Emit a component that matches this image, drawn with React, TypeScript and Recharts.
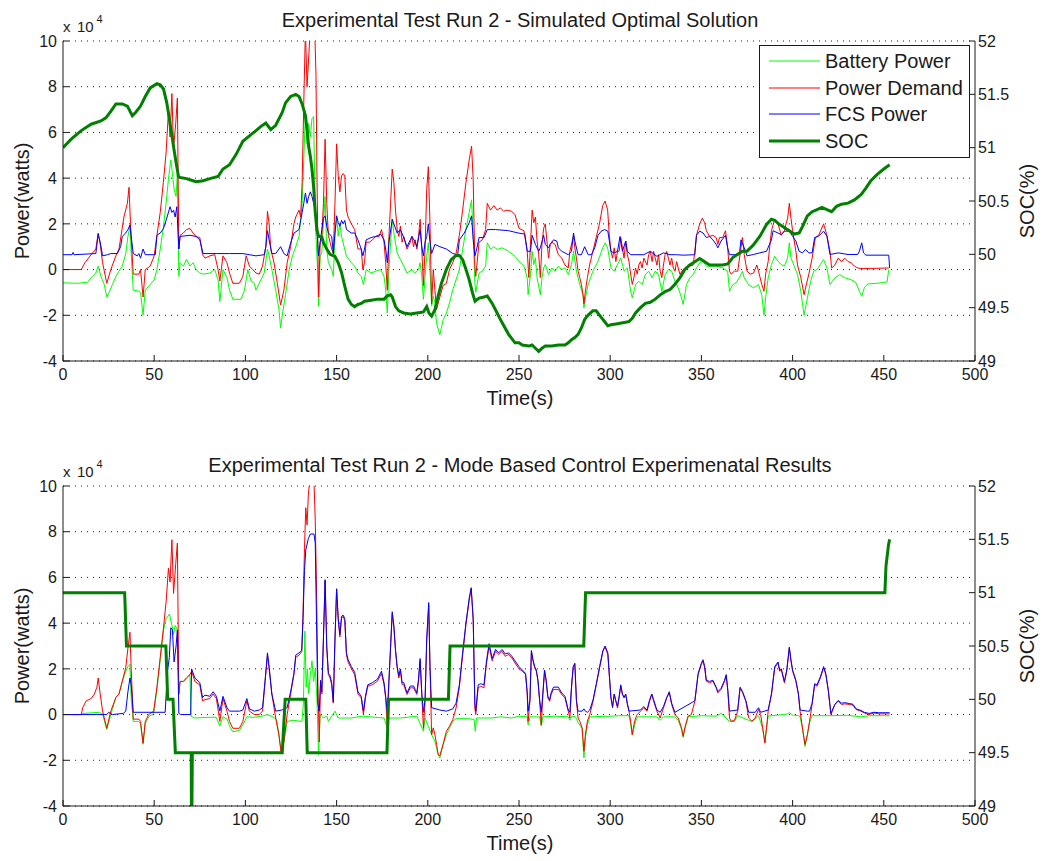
import React from "react";
import { ComposedChart, Line, XAxis, YAxis, CartesianGrid } from "recharts";

type Pt = [number, number];

// axis ticks
const timeTicks = [0, 50, 100, 150, 200, 250, 300, 350, 400, 450, 500];
const powerTicks = [-4, -2, 0, 2, 4, 6, 8, 10];
const socTicks = [49, 49.5, 50, 50.5, 51, 51.5, 52];

// run 2, simulated optimal solution (power in x10^4 W, SOC in %)
const simBattery: Pt[] = [
  [0, -0.58], [8, -0.6], [13.6, -0.55], [15.4, -0.35], [18, -0.15], [19.3, 0.15], [20.8, -0.3], [22.6, -0.65], [24, -1.2], [25.3, -1.0],
  [27.1, -0.65], [29, -0.3], [30.7, -0.07], [32.5, 0.15], [34.4, 0.7], [35.6, 1.45], [36.7, 1.9], [37.4, 0.7], [38.5, -0.9], [41.6, -0.95],
  [42.5, -1.0], [43.9, -2.0], [45.1, -0.9], [47.8, -0.65], [50, -0.45], [51.5, 0], [53.3, 0.9], [55.1, 1.9], [56.5, 2.9], [57.8, 3.95],
  [59.1, 4.8], [60, 4.2], [60.9, 3.5], [62, 3.2], [62.7, 4.2], [63.5, -0.3], [64.2, 0.3], [66, 0.15], [67.7, 0.45], [69.6, 0.15],
  [71.3, 0.3], [72.9, 0], [75, -0.15], [76.8, -0.2], [80.5, -0.15], [83.2, 0], [85, -0.45], [86, -1.4], [87.7, 0], [89.9, -0.35],
  [91.3, -0.9], [93.1, -1.3], [97.6, -1.3], [99.5, -0.9], [101.3, 0], [103.1, -0.5], [104.9, -0.6], [105.8, -0.9], [107.6, -0.6], [110.3, -0.15],
  [112.1, 0.9], [113, 0.6], [114.5, 0], [116.6, -0.9], [118.4, -1.75], [119.3, -2.55], [120.2, -2.0], [122, -1.1], [124, 0], [125.8, 0.6],
  [127.6, 1.0], [129.4, 1.45], [131.1, 2.9], [132, 4.8], [132.9, 6.9], [133.8, 5.5], [134.7, 6.4], [135.6, 5.8], [136.5, 6.6], [137.4, 6.7],
  [138, 3.9], [138.7, 1.45], [139.6, 0], [140.1, -1.6], [141, 0.6], [141.9, 0.73], [142.8, 2.05], [143.7, 3.2], [144.6, 0.88], [145.5, 0.3],
  [147.3, 0], [148.2, -0.3], [149.1, 1.46], [150, 2.35], [150.9, 1.46], [151.8, 2.05], [152.7, 1.46], [153.6, 1.17], [155.4, 0.58], [158.1, 0.3],
  [159.9, 0.15], [161.7, -0.15], [163.5, -0.3], [164.7, -0.65], [166.2, 0], [168.9, -0.15], [171.5, -0.07], [174.2, 0], [176, -0.3], [176.9, -0.88],
  [177.8, -1.9], [178.7, 0], [179.6, 1.17], [180.5, 2.2], [181.4, 1.6], [183.2, 0.73], [185, 0.44], [186.8, 0.15], [188.6, -0.15], [191.3, 0],
  [193.1, -0.15], [194.9, 0], [195.8, 0.3], [196.7, -0.3], [197.6, -1.3], [198.5, -0.3], [199.4, 0.58], [200.3, 1.17], [201.2, 0], [202.1, -1.6],
  [203, -1.17], [203.9, -1.46], [204.8, -2.35], [206.6, -2.85], [208.4, -2.2], [210.2, -1.9], [211.9, -1.46], [213.7, -0.88], [215.5, -0.44], [217.3, 0],
  [219.1, 0.88], [220.9, 1.75], [222.7, 2.5], [224, 3.05], [224.9, 1.46], [225.8, -0.58], [226.3, -1.0], [228.1, -0.15], [229.9, -0.07], [231.7, 0.15],
  [232.6, 1.17], [234.4, 0.88], [236.2, 1.0], [238, 0.88], [240.7, 0.95], [244.3, 0.8], [247.8, 0.58], [250, 0.36], [252.7, 0.15], [254.5, -0.36],
  [255, -1.1], [256.3, -0.22], [257.2, 0.8], [258.1, 0.22], [259, 0.51], [259.9, -0.36], [261.7, -1.1], [262.6, -0.36], [263.5, 0.07], [264.4, 0.22],
  [266.2, -0.22], [268, 0.07], [269.8, -0.07], [271.6, 0.15], [273.4, 0], [275.2, 0.07], [277, -0.22], [278.8, 0.22], [279.9, 0.8], [281.5, -0.07],
  [283.3, -0.66], [285.1, -1.1], [285.6, -1.68], [286.4, -1.24], [287.9, -0.66], [290.5, -0.07], [293.3, 0.36], [295.9, 0.95], [297.2, 1.17], [298.6, 0.95],
  [300.4, 0.07], [302.2, -0.07], [304, 0.22], [305.8, 0.51], [307.6, -0.07], [309.4, 0.07], [311.2, -0.95], [312.1, -1.24], [313.9, -0.66], [315.7, -0.51],
  [317.5, -0.66], [319.3, -0.22], [321.1, -0.07], [323, -0.36], [324.7, -0.07], [326.5, -0.22], [328.3, -0.95], [330.1, -0.22], [331.9, 0], [333.7, -0.07],
  [335.5, -0.51], [337.3, -0.8], [339.1, -1.24], [340, -1.53], [341.8, -0.66], [343.6, -0.36], [345.5, -0.22], [347.3, 0.07], [349.1, 0.29], [350.9, 0.36],
  [352.7, 0.15], [354.5, 0.15], [358.1, 0.15], [361.7, 0.07], [364.4, -0.07], [365.4, -0.95], [367.2, -0.66], [369, -0.58], [370.8, -0.36], [372.5, -0.07],
  [373.5, -0.36], [375.9, -0.66], [378.6, -0.8], [381.3, -0.66], [383.1, -1.1], [384.3, -2.0], [385.4, -1.1], [386.6, -0.36], [388.4, 0.22], [390.2, 0.58],
  [392, 0.36], [393.8, 0.22], [395.5, 0.15], [397.3, 0.51], [398.2, 1.17], [399.1, 0.51], [400.9, 0.15], [402.7, -0.22], [404.5, -0.95], [406.3, -2.0],
  [408.1, -1.24], [409.9, -0.51], [411.6, -0.07], [413.4, 0], [415.2, 0.22], [417, 0.44], [418.8, 0.07], [420.5, -0.66], [423.2, -0.36], [425.9, -0.22],
  [428.6, -0.36], [432.1, -0.44], [434.8, -0.58], [436.6, -0.95], [437.9, -1.17], [439.3, -0.8], [441.1, -0.63], [444.6, -0.61], [448.2, -0.58], [451.8, -0.54],
  [452.7, 0],
];

const simDemand: Pt[] = [
  [0, 0], [10, 0], [12, 0.3], [15.4, 0.65], [18, 0.9], [19.3, 1.6], [20.4, 1.1], [21.7, 0.3], [24, -0.6], [26.2, 0],
  [29, 0.6], [30.7, 0.9], [33.4, 2.3], [35.3, 2.9], [36.2, 3.6], [37, 2.0], [38.5, -0.2], [41.6, -0.2], [42.5, 0], [43.9, -1.2],
  [45.1, 0], [47.8, 0.15], [50, 0.6], [51.5, 1.5], [53.3, 2.5], [55, 3.8], [56.5, 5.1], [57.8, 6.9], [58.7, 5.8], [59.7, 7.7],
  [60.6, 5.3], [61.8, 6.4], [62.7, 7.5], [63.5, 0.9], [64.2, 1.5], [66, 1.6], [67.7, 1.75], [69.6, 1.8], [71.3, 1.6], [72.9, 1.45],
  [75, 1.4], [76.5, 0.65], [77.8, 0.5], [80.5, 0.6], [83.2, 0.65], [85, 0], [86, -0.5], [87.7, 0.6], [89.9, 0.3], [91.3, -0.15],
  [93.1, -0.6], [96.7, -0.6], [98.6, -0.3], [100.4, 0.6], [102.2, 0.15], [104, 0], [105.8, -0.15], [107.6, -0.2], [109.4, 0.15], [111.2, 1.0],
  [112.1, 2.55], [113, 2.0], [113.9, 0.9], [115.7, 0.3], [117.5, -0.6], [119.3, -1.55], [121.1, -0.9], [122.9, 0.3], [124.8, 1.0], [126.6, 2.0],
  [127.6, 2.3], [129.4, 2.6], [130.3, 2.3], [131.1, 3.8], [132, 7.3], [132.9, 10.5], [133.8, 8], [134.7, 9.3], [135.6, 10.5], [136.5, 10.5],
  [138, 10.5], [138.7, 8.5], [139.2, 4.4], [140.1, -1.2], [141, 1.2], [141.9, 1.45], [142.8, 2.9], [143.7, 5.7], [144.6, 2.9], [145.5, 1.5],
  [146.4, 1.2], [147.3, 0.9], [148.2, 0.7], [149.1, 2.9], [150, 5.5], [150.9, 4.1], [151.8, 3.4], [152.7, 4.1], [153.6, 4.2], [154.5, 4.1],
  [155.4, 2.6], [156.3, 2.3], [158.1, 2.0], [159.9, 1.75], [161.7, 0.9], [163.5, 0.9], [164.4, 0], [165.3, 0.3], [166.2, 1.2], [168, 1.2],
  [169.7, 1.3], [171.5, 1.45], [173.3, 1.45], [174.6, 1.75], [176, 1.2], [176.9, 0.3], [177.8, -0.9], [178.7, 1.45], [179.6, 2.9], [180.5, 4.4],
  [181.4, 3.8], [182.3, 2.6], [183.2, 1.75], [184.1, 1.45], [185, 1.9], [185.9, 1.2], [186.8, 1.45], [188.6, 0.9], [190.4, 1.2], [191.3, 1.45],
  [192.2, 1.0], [193.1, 1.3], [194, 0.9], [194.9, 1.45], [195.8, 2.2], [196.7, 0.9], [197.6, -0.7], [198.5, 0.9], [199.4, 3.5], [200.3, 4.5],
  [201.2, 2.0], [202.1, -1.5], [203, 0], [203.9, -0.9], [204.8, -1.75], [206.6, -1.2], [208.4, -0.7], [210.2, -0.6], [211.9, 0], [213.7, 0.3],
  [215.5, 0.7], [217.3, 1.5], [219.1, 2.6], [220.9, 3.8], [222.7, 4.8], [224, 5.4], [224.9, 3.9], [225.8, 0.15], [226.3, -0.3], [228.1, 1.2],
  [229.9, 1.3], [231.7, 1.75], [232.6, 2.9], [234.4, 2.6], [236.2, 2.8], [238, 2.6], [239.8, 2.7], [241.6, 2.55], [243.4, 2.6], [246, 2.55],
  [247.8, 2.4], [250, 1.8], [252.7, 1.7], [254.5, 0.8], [255.4, -0.35], [256.3, 1.1], [257.2, 2.6], [258.1, 2.05], [259, 2.3], [259.9, 1.25],
  [260.8, 0.65], [261.7, -0.35], [262.6, 1.1], [263.5, 1.8], [264.4, 2.0], [265.3, 1.25], [266.2, 0.5], [267.1, 1.1], [268, 1.2], [269.8, 1.1],
  [271.6, 0.65], [273.4, 0.5], [275.2, 0.2], [277, 0.07], [277.9, 0.8], [279.2, 1.25], [279.9, 1.5], [280.6, 0.95], [281.5, 0.5], [282.4, -0.07],
  [283.3, -0.35], [284.2, -0.65], [285.1, -1.1], [285.6, -1.5], [286.4, -0.95], [287.5, -0.35], [288.7, 0.2], [290.5, 0.8], [292.3, 1.4], [294.1, 2.0],
  [295.9, 2.8], [297.2, 3.0], [298.6, 2.6], [299.5, 1.5], [300.4, 0.8], [301.3, 0.5], [302.2, 0.95], [303.1, 0.35], [304, 0.8], [304.9, 0.8],
  [305.8, 1.4], [306.7, 0.95], [307.6, 0.5], [308.5, 1.25], [309.4, 0.65], [310.3, 0.35], [311.2, -0.2], [312.1, -0.65], [313, -0.35], [313.9, 0.07],
  [314.8, -0.2], [315.7, 0.2], [316.6, 0.35], [317.5, 0.07], [318.4, 0.5], [320.2, 0.2], [321.1, 0.65], [322, 0.8], [323, 0.35], [323.8, 0.8],
  [324.7, 0.5], [325.6, 0.2], [326.5, 0.65], [327.4, -0.07], [328.3, -0.35], [329.2, 0.2], [330.1, 0.65], [331, 0.8], [331.9, 0.5], [332.8, 0.2],
  [333.7, 0.5], [334.6, 0.07], [335.5, -0.07], [336.4, 0.35], [337.3, 0.07], [338.2, -0.2], [340, 0], [341.8, 0.07], [343.6, 0.15], [345.5, 0.2],
  [346.4, 0.8], [347.3, 1.5], [349.1, 2.0], [350.5, 2.25], [351.8, 2.05], [352.7, 1.7], [354.5, 1.45], [356.3, 1.5], [358.1, 1.4], [359, 1.1],
  [359.9, 1.4], [361.7, 1.4], [363.2, 1.7], [364.4, 0.95], [365.4, -0.07], [366.3, -0.2], [368.1, -0.07], [369.9, -0.07], [371.7, 0.95], [372.5, 1.4],
  [373.5, 0.65], [375, -0.07], [376.8, -0.2], [378.6, -0.15], [380.4, 0.2], [381.3, -0.07], [383.1, -0.65], [384.3, -0.95], [385.2, -0.2], [386.6, 0.35],
  [388.4, 1.7], [390.2, 2.2], [392, 2.0], [393.8, 1.5], [395.5, 1.7], [396.4, 2.0], [397.3, 2.25], [398.2, 2.9], [399.1, 2.25], [400, 1.7],
  [401.8, 0.8], [402.7, 0.2], [404.5, -0.35], [406.3, -1.1], [407.1, -0.8], [408.9, -0.2], [410.7, 0.5], [412.5, 1.4], [414.3, 1.5], [417, 2.0],
  [418.8, 1.5], [420.5, 0.8], [421.4, 0.07], [423.2, 0.2], [425, 0.5], [426.8, 0.35], [428.6, 0.5], [430.4, 0.35], [432.1, 0.3], [433.9, 0.15],
  [435.7, 0.07], [437.5, 0.05], [442.9, 0.05], [452.7, 0.07],
];

const simFcs: Pt[] = [
  [0, 0.65], [5, 0.65], [5.5, 0.75], [6, 0.65], [18, 0.7], [19.3, 1.55], [20.4, 1.2], [21.7, 0.6], [24.4, 0.65], [26.2, 0.7],
  [29.8, 0.7], [31.6, 1.0], [32.5, 1.45], [34.4, 1.6], [35.6, 1.75], [36.7, 1.95], [37.4, 1.45], [38.5, 0.7], [40.7, 0.6], [41.6, 0.7],
  [42.5, 0.5], [43.9, 0.9], [45.1, 0.65], [50.6, 0.65], [51.5, 1.5], [53.3, 1.6], [55.1, 1.8], [56.9, 2.25], [58.7, 2.75], [59.7, 2.5],
  [60.6, 2.6], [61.5, 2.3], [62.4, 2.75], [63.5, 0.9], [64.2, 1.45], [69.6, 1.5], [72.9, 1.45], [75, 1.3], [76.8, 0.7], [84.1, 0.7],
  [91.3, 0.7], [98.6, 0.7], [102.2, 0.65], [105.8, 0.6], [110.3, 0.65], [111.2, 1.0], [112.1, 1.7], [113, 1.3], [114.5, 0.7], [116.6, 0.7],
  [119.3, 1.0], [121.1, 0.7], [122.9, 0.6], [124.9, 1.2], [126.7, 1.6], [129.4, 1.75], [131.1, 2.5], [132, 2.9], [132.9, 3.35], [133.8, 2.9],
  [134.7, 3.2], [135.6, 3.4], [136.5, 3.2], [137.4, 2.9], [138.3, 2.6], [139.2, 1.75], [140.1, 0.6], [141, 1.2], [141.9, 1.75], [142.8, 2.25],
  [143.7, 2.35], [144.6, 1.9], [145.5, 1.6], [147.3, 1.45], [148.2, 0.7], [149.1, 1.6], [150, 2.35], [150.9, 2.05], [151.8, 1.9], [152.7, 2.15],
  [153.6, 2.0], [154.5, 2.15], [155.4, 1.75], [158.1, 1.6], [159.9, 1.6], [161.7, 1.3], [163.5, 0.9], [164.4, 0.6], [165.3, 0.9], [166.2, 1.3],
  [168.9, 1.4], [171.5, 1.45], [174.2, 1.55], [176, 1.3], [176.9, 0.9], [177.8, 0.3], [178.7, 1.2], [180.5, 2.2], [181.4, 2.0], [183.2, 1.6],
  [185, 1.75], [186.8, 1.4], [188.6, 1.0], [190.4, 1.3], [191.3, 1.45], [193.1, 1.2], [194, 1.0], [195.8, 1.75], [196.7, 1.0], [197.6, 0.6],
  [198.5, 1.2], [199.4, 1.45], [200.3, 2.0], [201.2, 1.2], [202.1, 0.7], [203.9, 1.1], [206.6, 1.0], [210.2, 0.9], [213.7, 0.7], [216.4, 0.65],
  [217.3, 1.3], [220, 1.6], [222.7, 2.05], [224, 2.35], [224.9, 1.3], [225.8, 0.6], [226.8, 0.9], [228.1, 1.4], [230.8, 1.4], [232.6, 1.75],
  [237.1, 1.75], [244.3, 1.7], [249.6, 1.6], [253.2, 1.55], [254.5, 0.8], [256.3, 0.8], [257.2, 1.5], [259, 1.1], [260.8, 0.8], [261.7, 0.95],
  [263.5, 1.5], [264.4, 1.1], [266.2, 0.95], [267.1, 1.1], [268.9, 1.3], [270.7, 1.25], [271.6, 0.95], [273.4, 0.8], [275.2, 0.73], [277, 0.65],
  [278.8, 0.8], [279.9, 1.6], [280.6, 1.25], [282.4, 0.65], [284.2, 0.65], [286, 1.0], [287.9, 0.65], [289.7, 0.65], [291.5, 0.95], [293.3, 1.5],
  [295.1, 1.68], [296.9, 1.75], [298.7, 1.68], [300.4, 0.8], [302.2, 0.73], [304, 0.8], [305.4, 1.45], [306.7, 0.8], [308.5, 1.25], [309.4, 0.8],
  [311.2, 0.65], [318.4, 0.65], [322, 0.8], [325.6, 0.58], [329.2, 0.73], [332.8, 0.65], [336.4, 0.65], [340, 0.63], [346.4, 0.65], [347.3, 1.5],
  [349.1, 1.68], [350.9, 1.6], [352.7, 1.4], [354.5, 1.45], [356.3, 1.3], [358.1, 1.1], [359, 0.95], [360.8, 1.25], [363.2, 1.5], [364.4, 0.95],
  [365.4, 0.65], [370.8, 0.65], [371.7, 1.3], [373.5, 0.95], [375, 0.6], [378.6, 0.66], [382.1, 0.73], [385.7, 0.8], [388.4, 1.3], [389.3, 1.7],
  [392, 1.6], [393.8, 1.53], [395.5, 1.68], [398.2, 1.68], [400, 1.46], [401.8, 1.24], [403.6, 0.8], [405.4, 0.73], [407.1, 0.88], [408.9, 0.73],
  [410.7, 0.73], [412.1, 1.4], [414.3, 1.46], [417, 1.68], [418.8, 1.46], [420.5, 0.66], [425, 0.73], [430.4, 0.66], [435.7, 0.66], [436.6, 0.8],
  [437.9, 1.17], [438.9, 0.73], [440.2, 0.63], [452.7, 0.63], [453.2, 0.07],
];

const simSoc: Pt[] = [
  [0, 51.0], [4.5, 51.08], [10, 51.16], [15.4, 51.22], [20.8, 51.25], [23.5, 51.28], [26.2, 51.34], [29, 51.41], [32.5, 51.41], [35.3, 51.39],
  [38, 51.3], [39.8, 51.33], [42.5, 51.39], [45.1, 51.48], [47.8, 51.56], [51.5, 51.6], [53.3, 51.59], [55.1, 51.55], [56.9, 51.42], [58.7, 51.23],
  [60.6, 51.01], [62, 50.86], [63.3, 50.73], [64.2, 50.72], [67.7, 50.71], [71.3, 50.69], [73.1, 50.68], [76.8, 50.69], [80.5, 50.71], [85, 50.73],
  [87.7, 50.8], [91.3, 50.84], [95, 50.94], [98.6, 51.06], [102.2, 51.11], [105.8, 51.16], [108.5, 51.2], [111.2, 51.23], [113.9, 51.17], [116.6, 51.21],
  [120.2, 51.33], [122, 51.42], [124.8, 51.48], [127.6, 51.5], [129.4, 51.48], [131.1, 51.41], [132.9, 51.3], [133.8, 51.17], [134.7, 51.01], [135.6, 50.92],
  [136.5, 50.8], [137.4, 50.63], [138.3, 50.39], [139.2, 50.23], [140.1, 50.17], [141.9, 50.16], [142.8, 50.11], [144.6, 50.05], [146.4, 50.0], [149.1, 49.98],
  [150.9, 49.92], [152.7, 49.83], [154.5, 49.7], [156.3, 49.58], [158.1, 49.53], [159.9, 49.51], [161.7, 49.53], [163.5, 49.54], [165.3, 49.56], [168.9, 49.57],
  [172.5, 49.58], [176, 49.58], [177.8, 49.61], [179.6, 49.62], [180.5, 49.6], [182.3, 49.51], [184.1, 49.47], [186.8, 49.45], [190.4, 49.44], [194, 49.45],
  [197.6, 49.46], [199.4, 49.51], [200.6, 49.45], [202.1, 49.42], [203.9, 49.48], [205.7, 49.61], [207.5, 49.73], [210.2, 49.86], [212.8, 49.95], [215.5, 49.99],
  [217.3, 49.99], [219.1, 49.95], [220.9, 49.86], [222.7, 49.76], [224.5, 49.64], [225.9, 49.56], [228.1, 49.59], [230.8, 49.6], [232.6, 49.61], [235.3, 49.54],
  [238, 49.45], [240.7, 49.36], [244.3, 49.25], [247.8, 49.17], [250, 49.17], [251.8, 49.15], [255.4, 49.14], [257.2, 49.15], [259, 49.12], [260.8, 49.09],
  [262.6, 49.12], [264.4, 49.14], [268, 49.14], [271.6, 49.15], [275.2, 49.15], [277, 49.17], [278.8, 49.2], [280.6, 49.22], [282.4, 49.25], [284.2, 49.31],
  [286, 49.39], [287.9, 49.43], [290.5, 49.47], [292.3, 49.47], [294.1, 49.43], [296.9, 49.37], [298.7, 49.33], [300.4, 49.34], [304, 49.35], [307.6, 49.36],
  [310.3, 49.37], [312.1, 49.4], [313.9, 49.45], [316.6, 49.5], [319.3, 49.54], [322, 49.55], [324.7, 49.58], [327.4, 49.62], [330.1, 49.65], [332.8, 49.67],
  [335.5, 49.72], [338.2, 49.78], [341, 49.86], [343.6, 49.9], [346.4, 49.93], [349.1, 49.96], [351.8, 49.93], [354.5, 49.9], [358.1, 49.9], [361.7, 49.9],
  [364.4, 49.91], [365.4, 49.93], [367.2, 49.97], [369.9, 50.0], [372.5, 50.03], [375, 50.03], [378.6, 50.09], [382.1, 50.17], [385.7, 50.28], [388.4, 50.33],
  [390.2, 50.32], [392, 50.29], [394.6, 50.26], [398.2, 50.22], [400.9, 50.19], [403.6, 50.2], [405.4, 50.26], [408.1, 50.36], [410.7, 50.4], [413.4, 50.42],
  [416.1, 50.44], [418.8, 50.42], [421.4, 50.4], [424.1, 50.45], [426.8, 50.47], [430.4, 50.48], [433.9, 50.51], [437.5, 50.56], [440.2, 50.62], [442.9, 50.69],
  [446.4, 50.75], [450, 50.8], [453.2, 50.84],
];

// run 2, mode based control experimental results
const expBattery: Pt[] = [
  [0, 0], [10, 0], [11, 0.05], [20, 0.1], [21.7, 0], [24, -0.65], [26.2, 0], [29, 0.75], [30.7, 0.9], [32.5, 1.45],
  [34.4, 1.9], [35.6, 2.1], [36.7, 2.2], [37.4, 0.7], [38.5, -0.3], [41.6, -0.3], [42.5, -0.4], [43.9, -1.3], [45.1, -0.4], [47, -0.1],
  [49.7, 0.05], [51.5, 1.1], [53.3, 2.4], [55.1, 3.7], [56.6, 4.2], [58.4, 4.4], [59.7, 3.9], [60.6, 3.5], [61.5, 3.9], [62.7, 3.7],
  [63.5, 0.9], [64.2, 1.45], [66, 1.45], [67.7, 1.6], [69.6, 1.75], [70.2, -0.07], [72, -0.15], [80, -0.12], [84, -0.12], [86, -0.5],
  [87.7, -0.1], [90, -0.2], [91.3, -0.5], [93.1, -0.75], [96.7, -0.7], [98.6, -0.45], [100.8, -0.1], [105, -0.12], [110, -0.05], [112, 0],
  [115, -0.1], [117, -0.2], [118.4, -0.9], [119.5, -1.6], [121.1, -1.2], [122.9, -0.3], [126, -0.25], [131, -0.3], [131.8, 0.5], [132.6, 3.65],
  [133.3, 1.2], [134, 2.0], [134.7, 0.9], [135.6, 1.75], [136.5, 2.35], [137.4, 1.45], [138.3, 2.0], [139.2, 0.73], [140.1, -1.75], [141, 0],
  [142.8, -0.15], [144.6, -0.07], [145.5, -0.3], [149.1, 0.15], [150.9, -0.15], [158, -0.15], [164, -0.07], [176, -0.15], [177.8, -0.6], [178.7, -0.15],
  [185, -0.15], [194, -0.07], [197.6, -0.73], [198.5, -0.15], [202.1, -0.88], [203.9, -1.17], [205.7, -1.75], [206.6, -1.9], [208.4, -1.31], [210.2, -0.88],
  [211.9, -0.58], [213.7, -0.29], [215.5, -0.18], [222.7, -0.18], [225.4, -0.22], [226, -0.73], [226.7, -0.15], [235, -0.15], [240, -0.1], [246, -0.15],
  [250, -0.07], [254.5, -0.1], [255, -0.45], [256, -0.1], [261.3, -0.1], [262.2, -0.5], [263.1, -0.1], [270, -0.07], [277, -0.1], [277.9, -0.25],
  [279, -0.07], [281, -0.1], [282.4, -0.35], [284.6, -0.6], [285.6, -1.9], [286.4, -1.0], [287.5, -0.45], [288.8, -0.1], [300, -0.07], [305, -0.05],
  [310.3, -0.05], [311.2, -0.4], [312.1, -0.9], [313, -0.6], [313.9, -0.3], [315, -0.1], [325.6, -0.1], [327.4, -0.25], [329.2, -0.1], [335.5, -0.1],
  [337.3, -0.25], [339.1, -0.65], [340, -1.0], [340.9, -0.65], [342.7, -0.1], [350, -0.05], [358, -0.07], [360.8, 0.05], [362, -0.03], [365.4, -0.3],
  [366.3, -0.3], [368.1, -0.3], [369.9, -0.05], [375.9, -0.25], [377.7, -0.3], [379.5, -0.2], [381.3, -0.05], [383.6, -0.6], [384.8, -1.25], [385.7, -0.6],
  [386.6, -0.07], [397, 0.02], [398.2, 0.08], [400, -0.02], [403.2, -0.05], [404.1, -0.1], [405.4, -0.6], [406.8, -1.4], [408.1, -0.9], [409.3, -0.35],
  [410.7, -0.05], [420, -0.05], [430, -0.03], [437.5, -0.1], [441.9, -0.05], [453.2, -0.05],
];

const expDemand: Pt[] = [
  [0, 0], [10, 0], [10.8, 0.3], [12.7, 0.6], [15.4, 0.7], [17.2, 0.9], [18.6, 1.2], [19.3, 1.6], [20.4, 0.9], [21.7, 0.15],
  [24, -0.6], [26.2, 0.15], [29, 0.75], [30.7, 0.9], [32.5, 1.45], [34.4, 2.05], [35.6, 2.9], [36.7, 3.6], [37.4, 2.0], [38.5, -0.2],
  [41.6, -0.2], [42.5, -0.3], [43.9, -1.25], [45.1, -0.3], [47, 0], [49.7, 0.15], [51.5, 1.2], [53.3, 2.5], [55.1, 3.8], [56.6, 5.0],
  [57.8, 6.4], [58.7, 5.8], [59.7, 7.65], [60.6, 5.3], [61.8, 6.6], [62.7, 7.5], [63.5, 0.9], [64.2, 1.45], [66, 1.45], [67.7, 1.6],
  [69.6, 1.75], [70.5, 1.9], [72.3, 1.45], [75, 1.3], [76.5, 0.6], [77.8, 0.65], [80.5, 0.7], [82.3, 0.9], [84.1, 0.7], [86, -0.3],
  [87.7, 0.7], [89.9, 0.15], [91.3, -0.3], [93.1, -0.6], [96.7, -0.6], [98.6, -0.3], [100.8, 0.6], [102.2, 0.15], [104.9, 0], [107.6, 0],
  [109.4, 0.15], [110.8, 1.45], [112.1, 2.6], [113, 2.0], [114.5, 0.9], [116.6, -0.15], [118.4, -0.9], [119.5, -1.6], [121.1, -1.2], [122.9, 0],
  [124.8, 0.9], [126.6, 1.75], [127.6, 2.5], [129.4, 2.6], [130.9, 2.75], [131.6, 4.4], [132.4, 7.3], [133.1, 9.05], [133.8, 8.3], [134.5, 9.6],
  [135.6, 10.5], [136.9, 10.5], [137.6, 10.2], [138.3, 8.5], [139, 5.4], [139.7, 1.45], [140.5, -1.2], [141.2, 1.45], [141.9, 0.9], [142.8, 3.3],
  [143.7, 5.85], [144.6, 2.9], [145.5, 1.75], [146.4, 1.6], [147.3, 1.3], [148.2, 0.5], [149.1, 3.2], [150, 5.5], [150.9, 4.1], [151.8, 3.4],
  [152.7, 4.2], [153.6, 4.3], [154.5, 4.1], [155.4, 2.6], [156.3, 2.3], [158.1, 2.0], [159.9, 1.75], [161.7, 0.9], [163.5, 0.73], [164.7, 0],
  [165.8, 0.73], [167.1, 1.24], [169.7, 1.31], [172.4, 1.46], [174.6, 1.8], [176, 1.31], [176.9, 0.73], [177.8, -0.6], [178.7, 1.46], [179.6, 2.92],
  [180.5, 4.4], [181.4, 3.8], [182.3, 2.77], [183.2, 2.04], [184.1, 1.6], [185, 1.9], [185.9, 1.31], [186.8, 1.31], [188.6, 0.88], [190.4, 1.17],
  [192.2, 1.17], [193.1, 1.02], [194, 0.88], [194.9, 1.46], [195.8, 2.35], [196.7, 0.88], [197.6, -0.6], [198.5, 0.58], [199.4, 3.2], [200.5, 4.8],
  [201.2, 2.04], [202.1, -0.88], [203, -0.58], [203.9, -0.88], [204.8, -1.3], [205.7, -1.75], [206.6, -1.8], [208.4, -1.3], [210.2, -0.73], [211.9, -0.51],
  [213.7, -0.22], [215.5, 0.29], [217.3, 1.2], [219.1, 2.6], [220.9, 3.95], [222.7, 5.0], [223.8, 5.5], [224.9, 4.1], [225.8, 0.29], [226.3, 0],
  [227.6, 1.17], [229, 1.24], [230.8, 1.17], [232.1, 2.19], [233.6, 3.0], [235.3, 2.35], [237.1, 2.77], [238.9, 2.63], [240.7, 2.77], [242.5, 2.55],
  [244.3, 2.63], [246.1, 2.48], [247.8, 2.26], [250, 2.0], [251.8, 1.9], [253.6, 1.75], [254.5, 0.9], [255, -0.3], [256, 0.58], [256.8, 2.75],
  [257.7, 2.34], [258.6, 2.04], [259.5, 1.9], [260.4, 1.46], [261.3, 0.58], [262.2, -0.45], [263.1, 0.88], [264, 1.9], [264.9, 1.46], [265.8, 0.73],
  [266.8, 0.58], [267.6, 0.88], [268.9, 1.1], [271.6, 1.1], [273.4, 0.88], [275.2, 0.73], [277, 0.15], [277.9, -0.15], [278.8, 1.17], [279.7, 2.04],
  [280.6, 2.2], [281.5, 0.58], [282.4, -0.15], [283.3, -0.29], [284.6, -0.58], [285.6, -1.6], [286.4, -0.88], [287.5, -0.29], [288.8, 0], [290.6, 0.58],
  [292.4, 1.31], [294.2, 2.04], [296, 2.77], [297.2, 2.95], [298.7, 2.63], [299.6, 1.6], [300.4, 0.73], [301.3, 0.29], [302.2, 0.88], [303.1, 0.58],
  [304, 0.29], [304.9, 0.73], [305.8, 1.24], [306.7, 0.88], [307.6, 0.73], [308.5, 0.88], [309.4, 0.44], [310.3, 0.15], [311.2, -0.29], [312.1, -0.88],
  [313, -0.44], [313.9, -0.15], [314.8, 0], [316.6, 0.15], [318.4, 0.29], [320.2, 0.15], [321.6, 0.58], [322.8, 0.88], [323.8, 0.58], [325.6, 0.15],
  [327.4, -0.15], [329.2, 0.29], [331, 0.73], [332.4, 0.95], [333.7, 0.44], [335.5, 0], [337.3, -0.15], [339.1, -0.58], [340, -0.95], [340.9, -0.58],
  [342.7, -0.07], [344.5, 0], [346.4, 0.58], [348.2, 1.75], [350, 2.2], [350.9, 2.34], [351.8, 2.04], [352.7, 1.46], [354.5, 1.39], [356.3, 1.46],
  [358.1, 1.17], [359, 0.95], [360.8, 1.1], [362.7, 1.46], [363.6, 1.7], [364.5, 1.02], [365.4, -0.15], [366.3, -0.29], [368.1, -0.26], [369.9, 0.15],
  [371.2, 1.15], [372.6, 0.95], [374.4, 0.58], [375.9, -0.15], [377.7, -0.29], [379.5, -0.15], [381.3, 0.22], [382.5, 0], [383.6, -0.58], [384.8, -1.24],
  [385.7, -0.58], [386.6, 0.15], [388.4, 0.88], [389.3, 1.46], [390.2, 2.04], [392, 2.26], [392.9, 1.9], [393.8, 1.97], [395.5, 1.39], [396.8, 1.9],
  [398.2, 2.92], [399.1, 2.34], [400, 1.9], [401.8, 1.46], [403.2, 0.88], [404.1, 0.15], [405.4, -0.58], [406.8, -1.31], [408.1, -0.88], [409.3, -0.29],
  [410.7, 0.44], [412.1, 1.31], [413.4, 1.24], [415.2, 1.6], [417, 2.04], [418.2, 1.75], [419.6, 1.02], [421, 0], [423.2, 0.44], [425, 0.58],
  [426.8, 0.44], [428.6, 0.47], [431.3, 0.44], [433.1, 0.41], [434.8, 0.22], [437.5, 0.15], [439.3, 0.07], [441.9, 0], [444.6, 0.07], [447.3, 0.03],
  [453.2, 0.03],
];

const expFcs: Pt[] = [
  [0, 0], [24, 0], [25, 0.1], [27, 0], [33, 0.05], [34.4, 0.15], [35.6, 1.0], [36.7, 1.6], [37.4, 1.3], [38.5, 0.1],
  [56, 0.1], [57.3, 1.9], [58.3, 2.5], [59.1, 3.8], [60, 3.7], [60.9, 2.3], [62, 3.0], [62.7, 3.7], [63.5, 0.05], [64.5, 0],
  [70, 0], [70.5, 2.0], [72.3, 1.6], [75, 1.4], [76.5, 0.75], [77.8, 0.85], [80.5, 0.8], [82.3, 1.0], [84.1, 0.8], [86, 0.15],
  [87.7, 0.8], [89.9, 0.3], [91.3, 0.15], [96.7, 0.15], [98.6, 0.2], [100.8, 0.7], [102.2, 0.25], [104.9, 0.15], [107.6, 0.2], [109.4, 0.3],
  [110.8, 1.5], [112.1, 2.7], [113, 2.1], [114.5, 0.9], [116.6, 0.15], [120, 0.2], [122.9, 0.3], [124.8, 1.0], [126.6, 1.8], [127.6, 2.6],
  [129.4, 2.7], [130.9, 2.8], [131.6, 4.2], [132.4, 6.3], [133.1, 7.2], [134.5, 7.7], [135.6, 7.9], [137.6, 7.9], [138.3, 7.5], [139, 4.0],
  [139.7, 0.5], [140.5, 0.15], [141.2, 1.5], [141.9, 1.0], [142.8, 3.4], [143.7, 5.9], [144.6, 3.0], [145.5, 1.8], [146.4, 1.7], [147.3, 1.4],
  [148.2, 0.55], [149.1, 3.3], [150, 5.5], [150.9, 4.2], [151.8, 3.5], [152.7, 4.3], [153.6, 4.35], [154.5, 4.2], [155.4, 2.7], [156.3, 2.4],
  [158.1, 2.1], [159.9, 1.85], [161.7, 1.0], [163.5, 0.8], [164.7, 0.15], [165.8, 0.8], [167.1, 1.3], [169.7, 1.4], [172.4, 1.55], [174.6, 1.9],
  [176, 1.4], [176.9, 0.8], [177.8, 0.1], [178.7, 1.5], [179.6, 3.0], [180.5, 4.5], [181.4, 3.9], [182.3, 2.85], [183.2, 2.1], [184.1, 1.7],
  [185, 2.0], [185.9, 1.4], [186.8, 1.4], [188.6, 0.95], [190.4, 1.25], [192.2, 1.25], [193.1, 1.1], [194, 0.95], [194.9, 1.55], [195.8, 2.45],
  [196.7, 0.95], [197.6, 0.1], [198.5, 0.65], [199.4, 3.3], [200.5, 4.9], [201.2, 2.1], [202.1, 0.3], [206.6, 0.2], [210.2, 0.15], [213.7, 0.25],
  [215.5, 0.5], [217.3, 1.3], [219.1, 2.7], [220.9, 4.0], [222.7, 5.1], [223.8, 5.55], [224.9, 4.2], [225.8, 0.5], [226.3, 0.15], [227.6, 1.3],
  [229, 1.35], [230.8, 1.3], [232.1, 2.3], [233.6, 3.1], [235.3, 2.45], [237.1, 2.85], [238.9, 2.7], [240.7, 2.85], [242.5, 2.65], [244.3, 2.7],
  [246.1, 2.55], [247.8, 2.35], [250, 2.1], [251.8, 1.95], [253.6, 1.8], [254.5, 1.0], [255, 0.15], [256, 0.65], [256.8, 2.8], [257.7, 2.4],
  [258.6, 2.1], [259.5, 1.95], [260.4, 1.5], [261.3, 0.65], [262.2, 0.1], [263.1, 0.95], [264, 1.95], [264.9, 1.5], [265.8, 0.8], [266.8, 0.65],
  [267.6, 0.95], [268.9, 1.2], [271.6, 1.2], [273.4, 0.95], [275.2, 0.8], [277, 0.2], [277.9, 0.1], [278.8, 1.25], [279.7, 2.1], [280.6, 2.25],
  [281.5, 0.6], [282.4, 0.15], [284.6, 0.15], [285.6, 0.25], [286.4, 0.15], [287.5, 0.1], [288.8, 0.2], [290.6, 0.65], [292.4, 1.35], [294.2, 2.1],
  [296, 2.8], [297.2, 3.0], [298.7, 2.7], [299.6, 1.65], [300.4, 0.75], [301.3, 0.35], [302.2, 0.9], [303.1, 0.6], [304, 0.35], [304.9, 0.8],
  [305.8, 1.3], [306.7, 0.9], [307.6, 0.75], [308.5, 0.9], [309.4, 0.5], [310.3, 0.15], [316.6, 0.2], [318.4, 0.35], [320.2, 0.2], [321.6, 0.65],
  [322.8, 0.9], [323.8, 0.65], [325.6, 0.2], [327.4, 0.1], [329.2, 0.35], [331, 0.75], [332.4, 1.0], [333.7, 0.5], [335.5, 0.1], [346.4, 0.6],
  [348.2, 1.8], [350, 2.25], [350.9, 2.4], [351.8, 2.1], [352.7, 1.5], [354.5, 1.45], [356.3, 1.5], [358.1, 1.2], [359, 1.0], [360.8, 1.15],
  [362.7, 1.5], [363.6, 1.75], [364.5, 1.05], [365.4, 0.15], [369.9, 0.2], [371.2, 1.2], [372.6, 1.0], [374.4, 0.6], [375.9, 0.1], [379.5, 0.1],
  [381.3, 0.3], [382.5, 0.1], [386.6, 0.2], [388.4, 0.9], [389.3, 1.5], [390.2, 2.1], [392, 2.3], [392.9, 1.95], [393.8, 2.0], [395.5, 1.45],
  [396.8, 1.95], [398.2, 2.95], [399.1, 2.4], [400, 1.95], [401.8, 1.5], [403.2, 0.9], [404.1, 0.2], [408.1, 0.15], [409.3, 0.15], [410.7, 0.5],
  [412.1, 1.35], [413.4, 1.3], [415.2, 1.65], [417, 2.1], [418.2, 1.8], [419.6, 1.05], [421, 0.05], [423.2, 0.45], [425, 0.62], [426.8, 0.5],
  [428.6, 0.52], [431.3, 0.48], [433.1, 0.45], [434.8, 0.25], [437.5, 0.18], [439.3, 0.1], [441.9, 0.05], [444.6, 0.1], [447.3, 0.08], [453.2, 0.08],
];

const expSoc: Pt[] = [
  [0, 51.0], [33.8, 51.0], [34.8, 50.5], [56.4, 50.5], [57.4, 50.0], [60.3, 50.0], [61.6, 49.5], [70.3, 49.5], [70.5, 48.6], [70.9, 49.5],
  [120.2, 49.5], [121.8, 50.0], [133.1, 50.0], [133.9, 49.5], [177.6, 49.5], [178.5, 50.0], [211.3, 50.0], [212.2, 50.5], [285.5, 50.5], [286.5, 51.0],
  [450.6, 51.0], [451.2, 51.25], [452.6, 51.45], [453.2, 51.5],
];

const FONT = '"Liberation Sans", Arial, Helvetica, sans-serif';
const INK = "#1a1a1a";

const seriesStyle = [
  { key: "battery", name: "Battery Power", color: "#00ff00", width: 1 },
  { key: "demand", name: "Power Demand", color: "#ff0000", width: 1 },
  { key: "fcs", name: "FCS Power", color: "#0000ff", width: 1 },
  { key: "soc", name: "SOC", color: "#008000", width: 3 },
];

const rows = (pts: Pt[]) => pts.map(([t, v]) => ({ t, v }));

function PlotLegend() {
  return (
    <div
      style={{
        position: "absolute",
        left: 759,
        top: 45,
        width: 211,
        height: 113,
        boxSizing: "border-box",
        border: `1px solid ${INK}`,
        background: "#fff",
        paddingTop: 2,
      }}
    >
      {seriesStyle.map((s) => (
        <div key={s.key} style={{ display: "flex", alignItems: "center", height: 26.5 }}>
          <svg width={65} height={8} style={{ flex: "none" }}>
            <line x1={9} x2={60} y1={4} y2={4} stroke={s.color} strokeWidth={s.width} />
          </svg>
          <span style={{ fontSize: 20, lineHeight: "26.5px", color: INK, whiteSpace: "nowrap" }}>{s.name}</span>
        </div>
      ))}
    </div>
  );
}

function Panel({
  title,
  series,
  legend,
}: {
  title: string;
  series: { battery: Pt[]; demand: Pt[]; fcs: Pt[]; soc: Pt[] };
  legend?: boolean;
}) {
  const tickStyle = { fontSize: 16, fill: INK };
  return (
    <div style={{ position: "relative", width: 1060, height: 416 }}>
      <ComposedChart width={1060} height={416} margin={{ top: 41, right: 25, bottom: 25, left: 3 }}>
        <CartesianGrid vertical={false} stroke={INK} strokeDasharray="1 5" />
        {seriesStyle.map((s) => (
          <Line
            key={s.key}
            yAxisId={s.key === "soc" ? "soc" : 0}
            data={rows(series[s.key as keyof typeof series])}
            dataKey="v"
            name={s.name}
            type="linear"
            stroke={s.color}
            strokeWidth={s.width}
            dot={false}
            activeDot={false}
            isAnimationActive={false}
          />
        ))}
        <XAxis
          dataKey="t"
          type="number"
          domain={[0, 500]}
          ticks={timeTicks}
          interval={0}
          allowDataOverflow
          height={30}
          tickSize={-6}
          tickMargin={14}
          stroke={INK}
          tick={tickStyle}
        />
        <XAxis
          xAxisId="top"
          orientation="top"
          dataKey="t"
          type="number"
          domain={[0, 500]}
          ticks={timeTicks}
          interval={0}
          height={0}
          tickSize={-6}
          tick={false}
          stroke={INK}
        />
        <YAxis
          type="number"
          domain={[-4, 10]}
          ticks={powerTicks}
          interval={0}
          allowDataOverflow
          width={60}
          tickSize={-6}
          tickMargin={12}
          stroke={INK}
          tick={tickStyle}
        />
        <YAxis
          yAxisId="soc"
          orientation="right"
          type="number"
          domain={[49, 52]}
          ticks={socTicks}
          interval={0}
          allowDataOverflow
          width={60}
          tickSize={-6}
          tickMargin={9}
          stroke={INK}
          tick={tickStyle}
        />
      </ComposedChart>
      <svg
        width={1060}
        height={416}
        style={{ position: "absolute", left: 0, top: 0, pointerEvents: "none", overflow: "visible" }}
        fontFamily={FONT}
        fill={INK}
      >
        <text x={520} y={27} textAnchor="middle" fontSize={20}>
          {title}
        </text>
        <text x={63} y={32} fontSize={15}>x</text>
        <text x={77} y={32} fontSize={15}>10</text>
        <text x={96.5} y={23} fontSize={11}>4</text>
        <text transform="translate(28.5,201) rotate(-90)" textAnchor="middle" fontSize={20}>
          Power(watts)
        </text>
        <text transform="translate(1034,201) rotate(-90)" textAnchor="middle" fontSize={20}>
          SOC(%)
        </text>
        <text x={520} y={405} textAnchor="middle" fontSize={20}>
          Time(s)
        </text>
      </svg>
      {legend && <PlotLegend />}
    </div>
  );
}

export default function App() {
  return (
    <div
      style={{
        position: "absolute",
        left: 0,
        top: 0,
        width: 1060,
        height: 861,
        background: "#fff",
        fontFamily: FONT,
        overflow: "hidden",
      }}
    >
      <div style={{ position: "absolute", left: 0, top: 0 }}>
        <Panel
          title="Experimental Test Run 2 - Simulated Optimal Solution"
          series={{ battery: simBattery, demand: simDemand, fcs: simFcs, soc: simSoc }}
          legend
        />
      </div>
      <div style={{ position: "absolute", left: 0, top: 445 }}>
        <Panel
          title="Experimental Test Run 2 - Mode Based Control Experimenatal Results"
          series={{ battery: expBattery, demand: expDemand, fcs: expFcs, soc: expSoc }}
        />
      </div>
    </div>
  );
}
